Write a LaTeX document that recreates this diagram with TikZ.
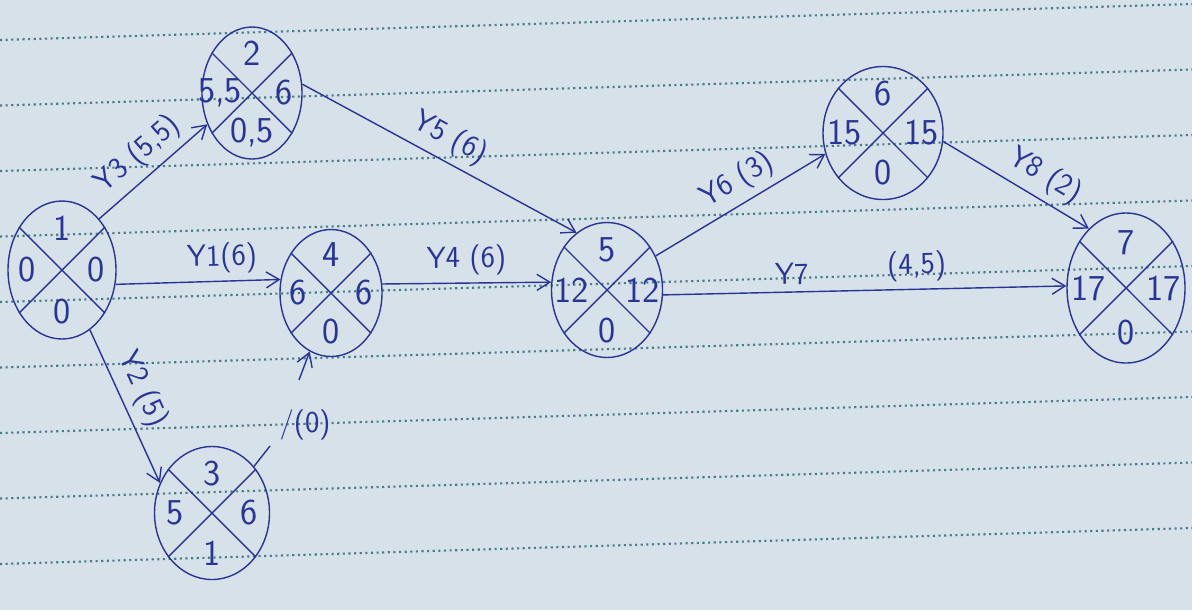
\documentclass[tikz,border=0pt]{standalone}
\usepackage{tikz}
\usetikzlibrary{arrows.meta,shapes.geometric,positioning}
\definecolor{ink}{RGB}{40,52,150}
\definecolor{paper}{RGB}{215,225,233}
\definecolor{rulecol}{RGB}{70,125,135}

\begin{document}
\begin{tikzpicture}[x=0.02cm, y=-0.02cm, >={Straight Barb[length=2.6mm,width=3.2mm]}]
        \tikzset{event/.style={ellipse, draw=ink, thick, inner sep=0pt}, num/.style={text=ink, font=\sffamily\huge, inner sep=1pt}, act/.style={->, draw=ink, thick}, actlabel/.style={text=ink, font=\sffamily\LARGE, sloped, above, inner sep=4pt}, ruled/.style={draw=rulecol, dotted, line width=1.2pt}}
        \fill[paper] (0,0) rectangle (1192,610);
        \useasboundingbox (0,0) rectangle (1192,610);
        \foreach \k in {0,...,8}
            \draw[ruled] (0,40+65.5*\k) -- (1192,4+65.5*\k);
        % events: name / x / y / width / height / top / left / right / bottom
        \foreach \nm/\cx/\cy/\w/\h/\tp/\lf/\rt/\bt in {n1/62/270/108/138/1/0/0/0, n2/252/93/100/132/2/{5,5}/6/{0,5}, n3/212/513/115/133/3/5/6/1, n4/331/293/102/127/4/6/6/0, n5/607/290/111/135/5/12/12/0, n6/883/133/120/133/6/15/15/0, n7/1126/288/118/150/7/17/17/0}
        {
            \node[event, minimum width=\w*0.02cm, minimum height=\h*0.02cm] (\nm) at (\cx,\cy) {};
            \draw[ink, thick] (\nm.135) -- (\nm.-45) (\nm.45) -- (\nm.225);
            \node[num] (\nm-t) at ([shift={(0,-0.3*\h)}]\nm.center) {\tp};
            \node[num] (\nm-l) at ([shift={(-0.32*\w,0)}]\nm.center) {\lf};
            \node[num] (\nm-r) at ([shift={(0.32*\w,0)}]\nm.center) {\rt};
            \node[num] (\nm-b) at ([shift={(0,0.3*\h)}]\nm.center) {\bt};
        }
        % activities
        \draw[act] (n1.54) -- (n2.215) node[actlabel, pos=.5] (y3) {Y3 (5,5)};
        \draw[act] (n1.-15) -- (n4.165) node[actlabel, pos=.65] (y1) {Y1(6)};
        \draw[act] (n1.-65) -- (n3.150) node[actlabel, pos=.45] (y2) {Y2 (5)};
        \draw[act] (n2.10) -- (n5.118) node[actlabel, pos=.5] (y5) {Y5 (6)};
        \draw[act] (n4.10) -- (n5.172) node[actlabel, pos=.5] (y4) {Y4 (6)};
        \draw[act] (n5.35) -- (n6.200) node[actlabel, pos=.55] (y6) {Y6 (3)};
        \draw[act] (n5.-5) -- (n7.178) node[actlabel, pos=.32] (y7) {Y7} node[actlabel, pos=.63] (y7d) {(4,5)};
        \draw[act] (n6.-8) -- (n7.122) node[actlabel, pos=.62] (y8) {Y8 (2)};
        % dummy
        \coordinate (d3) at (270,446);
        \coordinate (d4) at (299,380);
        \draw[ink, thick] (n3.48) -- (d3);
        \node[text=ink, font=\sffamily\LARGE] (dl) at (305,425) {/(0)};
        \draw[act] (d4) -- (n4.250);
\end{tikzpicture}
\end{document}
